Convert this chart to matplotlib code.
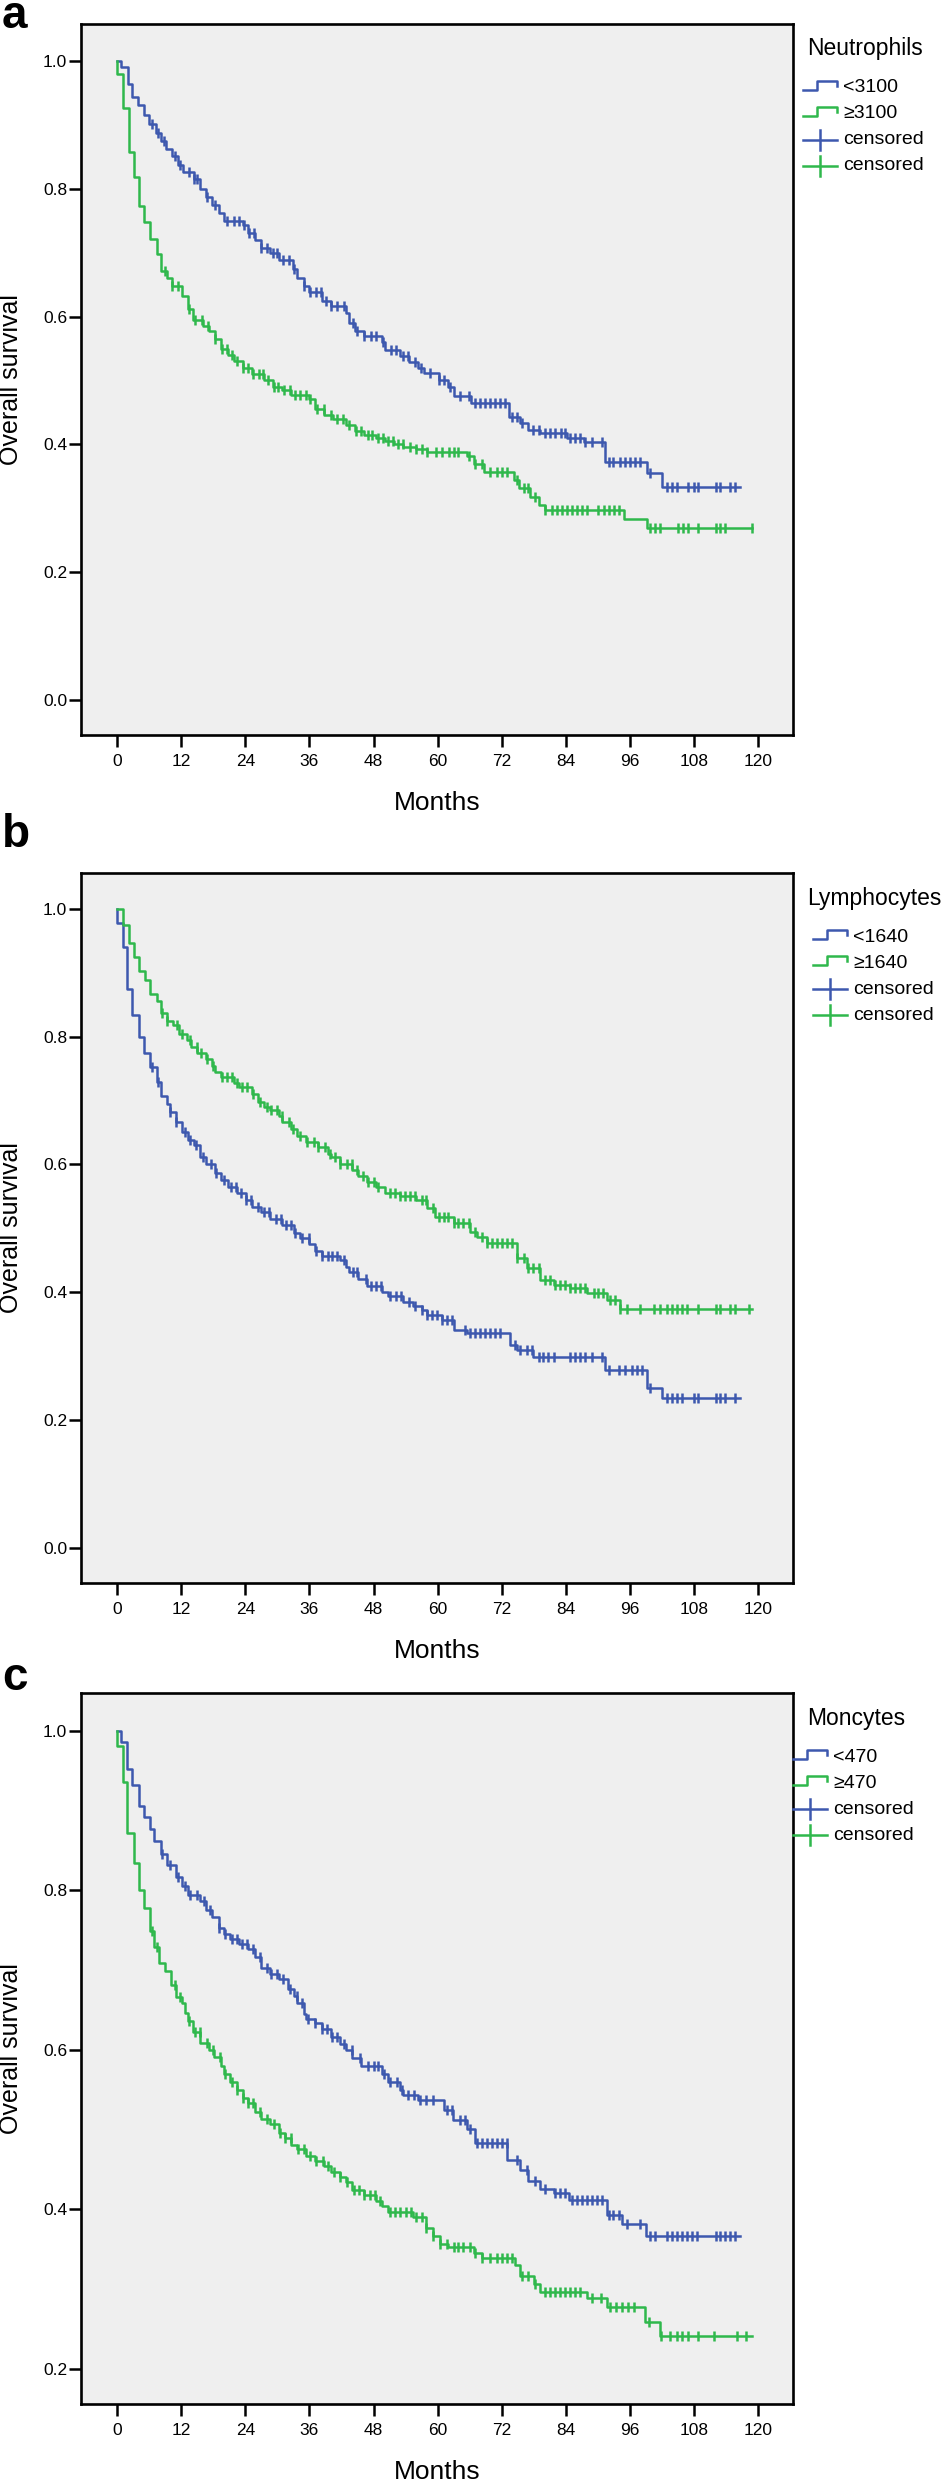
import numpy as np
import matplotlib
matplotlib.use('Agg')
import matplotlib.pyplot as plt
from matplotlib.lines import Line2D

# Kaplan-Meier step values (months, survival after each drop)
# and censoring times for each group

# a) Neutrophils
neu_low_t = [0.8, 2.0, 2.8, 4.0, 5.0, 5.9, 7.3, 8.2, 9.1, 10.2, 11.4, 12.4, 14.4, 15.6, 16.7, 17.8,
             19.0, 20.0, 23.5, 24.6, 25.8, 26.9, 28.6, 30.3, 33.0, 33.7, 34.9, 36.0, 38.3, 40.0,
             42.8, 43.5, 44.5, 46.2, 49.6, 50.2, 53.0, 54.7, 56.4, 57.5, 60.2, 62.0, 63.0, 66.3,
             73.4, 75.4, 77.0, 79.2, 84.2, 87.3, 91.4, 99.2, 102.0]
neu_low_s = [0.99, 0.964, 0.944, 0.931, 0.915, 0.902, 0.888, 0.875, 0.862, 0.851, 0.838, 0.826,
             0.815, 0.80, 0.787, 0.775, 0.762, 0.75, 0.743, 0.731, 0.72, 0.708, 0.70, 0.688,
             0.675, 0.661, 0.648, 0.638, 0.625, 0.616, 0.605, 0.59, 0.578, 0.57, 0.56, 0.548,
             0.538, 0.529, 0.52, 0.511, 0.50, 0.49, 0.475, 0.464, 0.443, 0.433, 0.4225, 0.417,
             0.41, 0.403, 0.373, 0.355, 0.334]
neu_low_end = 116.6
neu_low_c = [6.5, 7.7, 8.7, 10.9, 11.8, 13.4, 14.4, 15.0, 16.9, 18.4, 20.6, 21.9, 22.8, 23.8, 24.7,
             25.6, 26.9, 28.1, 29.1, 30.0, 31.0, 32.2, 33.2, 35.0, 36.2, 37.2, 38.1, 39.1, 40.0,
             41.2, 42.5, 44.1, 45.0, 46.3, 47.5, 48.5, 49.7, 51.3, 52.2, 53.5, 54.4, 55.7, 56.9,
             58.6, 60.2, 61.1, 62.3, 64.2, 65.8, 67.0, 68.0, 68.9, 69.8, 70.8, 71.7, 72.6, 73.9,
             74.8, 75.7, 77.9, 78.9, 80.1, 81.1, 82.0, 83.0, 83.9, 84.8, 85.7, 86.7, 87.6, 88.9,
             90.7, 92.0, 92.9, 94.2, 95.1, 96.0, 96.9, 97.9, 99.7, 102.9, 103.8, 104.8, 106.9,
             107.9, 108.8, 112.0, 112.9, 114.8, 115.7]

neu_high_t = [0.0, 1.1, 2.2, 3.1, 4.2, 5.1, 6.2, 7.4, 8.2, 9.3, 10.2, 12.1, 13.3, 14.2, 16.1, 17.3,
              18.4, 19.5, 20.7, 21.8, 23.5, 25.2, 27.5, 29.2, 30.9, 32.6, 36.0, 37.1, 38.8, 40.5,
              42.8, 44.5, 46.2, 48.5, 50.2, 51.9, 53.6, 56.0, 58.0, 65.5, 66.8, 68.6, 74.2, 75.2,
              77.3, 78.9, 80.1, 94.8, 99.2]
neu_high_s = [0.979, 0.926, 0.857, 0.818, 0.773, 0.748, 0.721, 0.698, 0.672, 0.661, 0.648, 0.632,
              0.612, 0.595, 0.585, 0.578, 0.565, 0.55, 0.54, 0.53, 0.52, 0.51, 0.50, 0.49, 0.485,
              0.478, 0.471, 0.455, 0.446, 0.44, 0.43, 0.421, 0.415, 0.41, 0.405, 0.40, 0.396,
              0.393, 0.388, 0.381, 0.370, 0.357, 0.344, 0.331, 0.318, 0.305, 0.297, 0.283, 0.269]
neu_high_end = 118.9
neu_high_c = [9.0, 10.2, 11.5, 13.4, 14.6, 15.9, 17.1, 18.4, 19.6, 20.5, 21.5, 22.4, 23.6, 24.6,
              25.5, 26.5, 27.4, 28.3, 29.3, 30.2, 31.2, 32.4, 33.4, 34.3, 35.3, 36.2, 37.5, 38.7,
              40.0, 41.2, 42.2, 43.4, 44.7, 45.6, 46.9, 47.8, 48.8, 49.7, 50.7, 51.6, 52.6, 53.5,
              54.8, 56.0, 57.1, 58.0, 59.6, 60.8, 62.1, 63.0, 63.9, 65.8, 67.0, 68.3, 69.8, 71.1,
              72.0, 73.0, 74.8, 76.1, 77.0, 78.3, 80.1, 81.4, 82.3, 83.3, 84.2, 85.1, 86.1, 87.0,
              88.0, 90.1, 91.1, 92.0, 93.0, 93.9, 99.7, 100.7, 101.6, 105.0, 106.0, 106.9, 108.8,
              112.0, 112.9, 113.8, 118.9]

# b) Lymphocytes
lym_low_t = [0.0, 1.1, 1.9, 2.8, 4.2, 5.1, 6.2, 7.4, 8.2, 9.3, 9.9, 11.0, 12.1, 13.3, 14.4, 15.6,
             16.7, 18.4, 19.5, 20.7, 22.4, 24.1, 25.2, 26.9, 28.6, 30.9, 33.1, 34.3, 36.0, 37.1,
             38.3, 41.7, 42.8, 43.4, 45.1, 46.8, 49.6, 50.7, 53.6, 55.3, 57.0, 58.0, 60.8, 63.0,
             65.5, 73.5, 74.8, 77.9, 91.4, 99.2, 102.0]
lym_low_s = [0.978, 0.94, 0.874, 0.834, 0.80, 0.775, 0.753, 0.729, 0.707, 0.695, 0.682, 0.667,
             0.65, 0.638, 0.63, 0.611, 0.60, 0.586, 0.575, 0.565, 0.555, 0.545, 0.534, 0.525,
             0.514, 0.505, 0.493, 0.485, 0.476, 0.465, 0.456, 0.45, 0.44, 0.431, 0.42, 0.41, 0.40,
             0.394, 0.384, 0.378, 0.372, 0.365, 0.357, 0.341, 0.336, 0.318, 0.31, 0.299, 0.279,
             0.25, 0.234]
lym_low_end = 116.6
lym_low_c = [6.5, 7.7, 9.9, 11.1, 12.7, 13.6, 14.8, 16.1, 17.6, 18.5, 20.1, 21.3, 22.2, 23.2, 24.1,
             25.0, 26.3, 27.5, 28.4, 29.7, 30.6, 31.6, 32.5, 33.4, 34.7, 35.9, 37.2, 38.4, 39.4,
             40.3, 41.2, 42.5, 44.1, 45.0, 46.6, 47.5, 48.5, 49.4, 51.0, 52.2, 53.2, 54.7, 55.8,
             57.0, 58.0, 58.9, 59.8, 60.8, 61.7, 62.6, 65.1, 66.1, 67.0, 67.9, 68.9, 69.8, 70.8,
             71.7, 74.5, 75.4, 76.7, 77.6, 78.9, 79.8, 80.7, 81.7, 84.8, 85.7, 86.7, 87.6, 88.9,
             90.7, 92.0, 93.9, 95.1, 96.4, 97.3, 98.2, 99.8, 102.9, 103.8, 104.8, 105.7, 107.9,
             108.8, 112.0, 112.9, 113.8, 115.7]

lym_high_t = [1.1, 2.2, 3.1, 4.2, 5.3, 6.2, 7.4, 8.2, 9.3, 10.4, 11.6, 13.1, 13.9, 15.0, 16.7, 17.8,
              18.4, 19.5, 21.8, 22.9, 25.2, 26.3, 27.5, 28.6, 30.3, 30.9, 32.6, 33.7, 35.4, 37.7,
              39.4, 40.0, 41.7, 44.0, 45.1, 46.8, 48.5, 50.2, 53.0, 55.9, 58.0, 59.5, 63.0, 66.1,
              67.3, 69.2, 74.8, 76.7, 79.2, 81.7, 84.8, 87.9, 91.7, 94.2]
lym_high_s = [0.975, 0.947, 0.925, 0.903, 0.889, 0.867, 0.855, 0.837, 0.825, 0.818, 0.804, 0.795,
              0.783, 0.775, 0.765, 0.754, 0.745, 0.737, 0.727, 0.721, 0.71, 0.698, 0.69, 0.685,
              0.675, 0.667, 0.655, 0.644, 0.635, 0.627, 0.617, 0.611, 0.60, 0.592, 0.582, 0.572,
              0.564, 0.555, 0.55, 0.545, 0.532, 0.518, 0.508, 0.495, 0.487, 0.477, 0.453, 0.438,
              0.419, 0.412, 0.406, 0.399, 0.388, 0.373]
lym_high_end = 118.9
lym_high_c = [8.4, 9.3, 11.2, 12.1, 13.7, 14.9, 15.8, 16.8, 18.0, 19.6, 20.5, 21.5, 22.4, 23.3,
              24.3, 25.5, 26.8, 28.0, 28.9, 29.9, 30.8, 32.1, 33.0, 34.3, 35.5, 36.8, 37.7, 38.9,
              39.9, 40.8, 41.7, 43.0, 43.9, 44.9, 46.1, 47.0, 48.0, 48.9, 51.1, 52.0, 53.0, 53.9,
              54.9, 55.8, 57.0, 57.9, 59.2, 60.2, 61.1, 62.0, 63.0, 63.9, 64.8, 65.8, 67.0, 68.3,
              69.2, 70.1, 71.1, 72.0, 72.9, 73.9, 74.8, 76.1, 77.0, 77.9, 78.9, 80.1, 81.1, 82.0,
              82.9, 83.9, 84.8, 85.7, 86.7, 87.6, 89.2, 90.1, 91.0, 92.3, 93.2, 94.2, 95.4, 97.9,
              100.4, 101.6, 102.9, 103.8, 104.8, 105.7, 106.6, 108.8, 112.0, 112.9, 114.7, 115.7,
              118.2]

# c) Moncytes
mon_low_t = [0.8, 1.9, 2.8, 4.2, 5.1, 6.2, 7.0, 8.2, 9.3, 11.0, 12.1, 13.3, 15.6, 16.7, 17.8, 19.0,
             20.0, 21.2, 22.9, 24.6, 25.8, 26.9, 28.6, 30.3, 32.0, 33.2, 33.7, 34.9, 35.4, 37.1,
             38.3, 40.0, 41.7, 42.8, 44.0, 45.6, 49.6, 50.7, 53.0, 53.6, 56.4, 61.1, 62.9, 65.5,
             67.0, 73.0, 75.4, 77.0, 79.2, 81.7, 84.5, 91.6, 94.5, 99.0]
mon_low_s = [0.985, 0.952, 0.932, 0.905, 0.892, 0.877, 0.861, 0.845, 0.832, 0.817, 0.805, 0.794,
             0.786, 0.775, 0.766, 0.752, 0.745, 0.739, 0.732, 0.726, 0.716, 0.703, 0.695, 0.688,
             0.676, 0.667, 0.659, 0.645, 0.638, 0.633, 0.626, 0.616, 0.607, 0.60, 0.59, 0.58,
             0.57, 0.56, 0.55, 0.543, 0.537, 0.524, 0.512, 0.50, 0.483, 0.462, 0.449, 0.435,
             0.426, 0.42, 0.412, 0.393, 0.382, 0.366]
mon_low_end = 116.6
mon_low_c = [8.4, 9.9, 11.5, 12.7, 13.7, 14.9, 16.2, 17.4, 19.0, 20.2, 21.5, 22.4, 23.3, 24.3, 25.5,
             26.8, 28.0, 28.9, 29.9, 31.1, 32.4, 33.6, 34.6, 35.8, 37.1, 38.3, 39.3, 40.2, 41.1,
             42.4, 43.9, 45.5, 47.0, 48.0, 48.9, 49.9, 51.1, 52.4, 53.3, 54.5, 55.5, 56.7, 57.9,
             59.2, 61.7, 62.6, 64.2, 65.1, 66.1, 67.3, 68.3, 69.2, 70.1, 71.1, 72.0, 72.9, 74.8,
             76.7, 78.3, 80.1, 82.0, 82.9, 83.9, 85.1, 86.1, 87.0, 87.9, 88.9, 89.8, 90.7, 92.0,
             92.9, 93.9, 95.4, 97.9, 99.8, 100.7, 102.9, 103.8, 104.8, 105.7, 106.6, 107.6, 108.5,
             112.0, 112.9, 113.8, 114.7, 115.7]

mon_high_t = [0.0, 1.1, 1.9, 3.1, 4.2, 5.1, 6.2, 7.0, 7.8, 9.0, 10.1, 11.0, 12.1, 12.7, 13.3, 14.2,
              15.6, 17.3, 18.1, 19.5, 20.0, 21.2, 22.4, 23.5, 24.6, 25.8, 26.9, 28.6, 30.3, 31.4,
              32.6, 33.7, 35.4, 37.1, 38.8, 40.0, 41.7, 42.8, 44.0, 46.2, 48.5, 49.6, 50.7, 55.3,
              57.9, 59.2, 60.5, 62.0, 66.8, 68.3, 74.5, 75.4, 78.0, 79.2, 87.9, 91.6, 98.8, 101.6]
mon_high_s = [0.981, 0.935, 0.872, 0.834, 0.80, 0.778, 0.749, 0.729, 0.709, 0.699, 0.681, 0.666,
              0.659, 0.646, 0.636, 0.622, 0.608, 0.60, 0.591, 0.58, 0.57, 0.56, 0.55, 0.54, 0.533,
              0.522, 0.513, 0.507, 0.495, 0.489, 0.48, 0.475, 0.467, 0.46, 0.454, 0.447, 0.44,
              0.434, 0.424, 0.418, 0.41, 0.404, 0.397, 0.39, 0.376, 0.366, 0.357, 0.353, 0.345,
              0.339, 0.330, 0.316, 0.307, 0.296, 0.289, 0.278, 0.259, 0.241]
mon_high_end = 118.9
mon_high_c = [6.5, 7.4, 10.9, 11.8, 13.4, 14.6, 15.5, 16.8, 18.0, 19.3, 20.2, 21.5, 22.4, 23.6,
              24.6, 25.5, 26.8, 28.0, 29.3, 30.5, 31.5, 32.5, 33.8, 35.0, 36.2, 37.3, 38.5, 39.5,
              40.6, 41.8, 43.0, 44.3, 45.3, 46.3, 47.3, 48.3, 49.3, 51.0, 52.0, 53.0, 54.0, 55.0,
              56.0, 57.0, 57.9, 59.2, 60.5, 61.7, 63.0, 63.9, 64.8, 66.1, 67.0, 68.3, 69.8, 71.1,
              72.0, 72.9, 73.9, 75.7, 77.0, 78.3, 80.1, 81.1, 82.0, 82.9, 83.9, 84.8, 85.7, 86.7,
              88.9, 90.5, 92.2, 93.3, 94.5, 95.6, 96.7, 99.6, 101.8, 103.5, 104.7, 105.8, 106.9,
              108.7, 111.8, 116.0, 117.7]

x_ticks = [0, 12, 24, 36, 48, 60, 72, 84, 96, 108, 120]

BLUE = '#3d58ae'
GREEN = '#2fb84c'

W, H = 951, 2481
plt.rcParams['font.family'] = ['Liberation Sans', 'DejaVu Sans']
fig = plt.figure(figsize=(W / 100, H / 100), dpi=100)


def fx(x):
    return x / W


def fy(y):
    return 1 - y / H


def draw_key(top, key_x, title, labels):
    # legend to the right of the plot, SPSS style
    fig.text(fx(807), fy(top + 25), title, fontsize=16.5, ha='left', va='center')
    cols = [BLUE, GREEN, BLUE, GREEN]
    for i, (lab, col) in enumerate(zip(labels, cols)):
        yc = top + 64 + 26 * i
        if i < 2:
            xs = [key_x, key_x + 14, key_x + 14, key_x + 34, key_x + 34]
            ys = [yc + 2, yc + 2, yc - 7, yc - 7, yc - 2]
            fig.add_artist(Line2D([fx(v) for v in xs], [fy(v) for v in ys], color=col, lw=1.8))
        else:
            fig.add_artist(Line2D([fx(key_x), fx(key_x + 34)], [fy(yc), fy(yc)], color=col, lw=1.8))
            fig.add_artist(Line2D([fx(key_x + 17)] * 2, [fy(yc - 10), fy(yc + 10)], color=col, lw=1.8))
        fig.text(fx(key_x + 40), fy(yc), lab, fontsize=14, ha='left', va='center')


def draw_panel(top, bottom, ylim, yticks, groups, title, labels, key_x):
    ax = fig.add_axes([fx(81), fy(bottom), fx(793) - fx(81), (bottom - top) / H])
    ax.set_facecolor('#efefef')
    for times, surv, end, cens, col in groups:
        x = np.concatenate([[0.0], times, [end]])
        y = np.concatenate([[1.0], surv, [surv[-1]]])
        ax.step(x, y, where='post', color=col, lw=1.8)
        idx = np.searchsorted(x, cens, side='right') - 1
        ax.plot(cens, y[idx], ls='none', marker='|', ms=7.5, mew=1.8, color=col)
    ax.set_xlim(-6.74, 126.5)
    ax.set_ylim(*ylim)
    ax.set_xticks(x_ticks)
    ax.set_yticks(yticks)
    ax.set_yticklabels([f'{v:.1f}' for v in yticks])
    for s in ax.spines.values():
        s.set_linewidth(1.9)
    ax.tick_params(axis='y', length=9, width=1.8, pad=1, labelsize=12.5)
    ax.tick_params(axis='x', length=8.5, width=1.8, pad=5.5, labelsize=12.5)
    fig.text(fx(11), fy((top + bottom) / 2), 'Overall survival', fontsize=18,
             rotation=90, ha='center', va='center')
    fig.text(fx(437), fy(bottom + 68), 'Months', fontsize=19, ha='center', va='center')
    draw_key(top, key_x, title, labels)
    return ax


draw_panel(24, 735, (-0.055, 1.058), [0.0, 0.2, 0.4, 0.6, 0.8, 1.0],
           [(neu_low_t, neu_low_s, neu_low_end, neu_low_c, BLUE),
            (neu_high_t, neu_high_s, neu_high_end, neu_high_c, GREEN)],
           'Neutrophils', ['<3100', '\u22653100', 'censored', 'censored'], 803)
fig.text(fx(2), fy(28), 'a', fontsize=33, fontweight='bold', ha='left', va='baseline')

draw_panel(873, 1583, (-0.055, 1.056), [0.0, 0.2, 0.4, 0.6, 0.8, 1.0],
           [(lym_low_t, lym_low_s, lym_low_end, lym_low_c, BLUE),
            (lym_high_t, lym_high_s, lym_high_end, lym_high_c, GREEN)],
           'Lymphocytes', ['<1640', '\u22651640', 'censored', 'censored'], 813)
fig.text(fx(2), fy(847), 'b', fontsize=33, fontweight='bold', ha='left', va='baseline')

draw_panel(1693, 2404, (0.156, 1.047), [0.2, 0.4, 0.6, 0.8, 1.0],
           [(mon_low_t, mon_low_s, mon_low_end, mon_low_c, BLUE),
            (mon_high_t, mon_high_s, mon_high_end, mon_high_c, GREEN)],
           'Moncytes', ['<470', '\u2265470', 'censored', 'censored'], 793)
fig.text(fx(2), fy(1690), 'c', fontsize=33, fontweight='bold', ha='left', va='baseline')

fig.savefig('out.png', dpi=100)
